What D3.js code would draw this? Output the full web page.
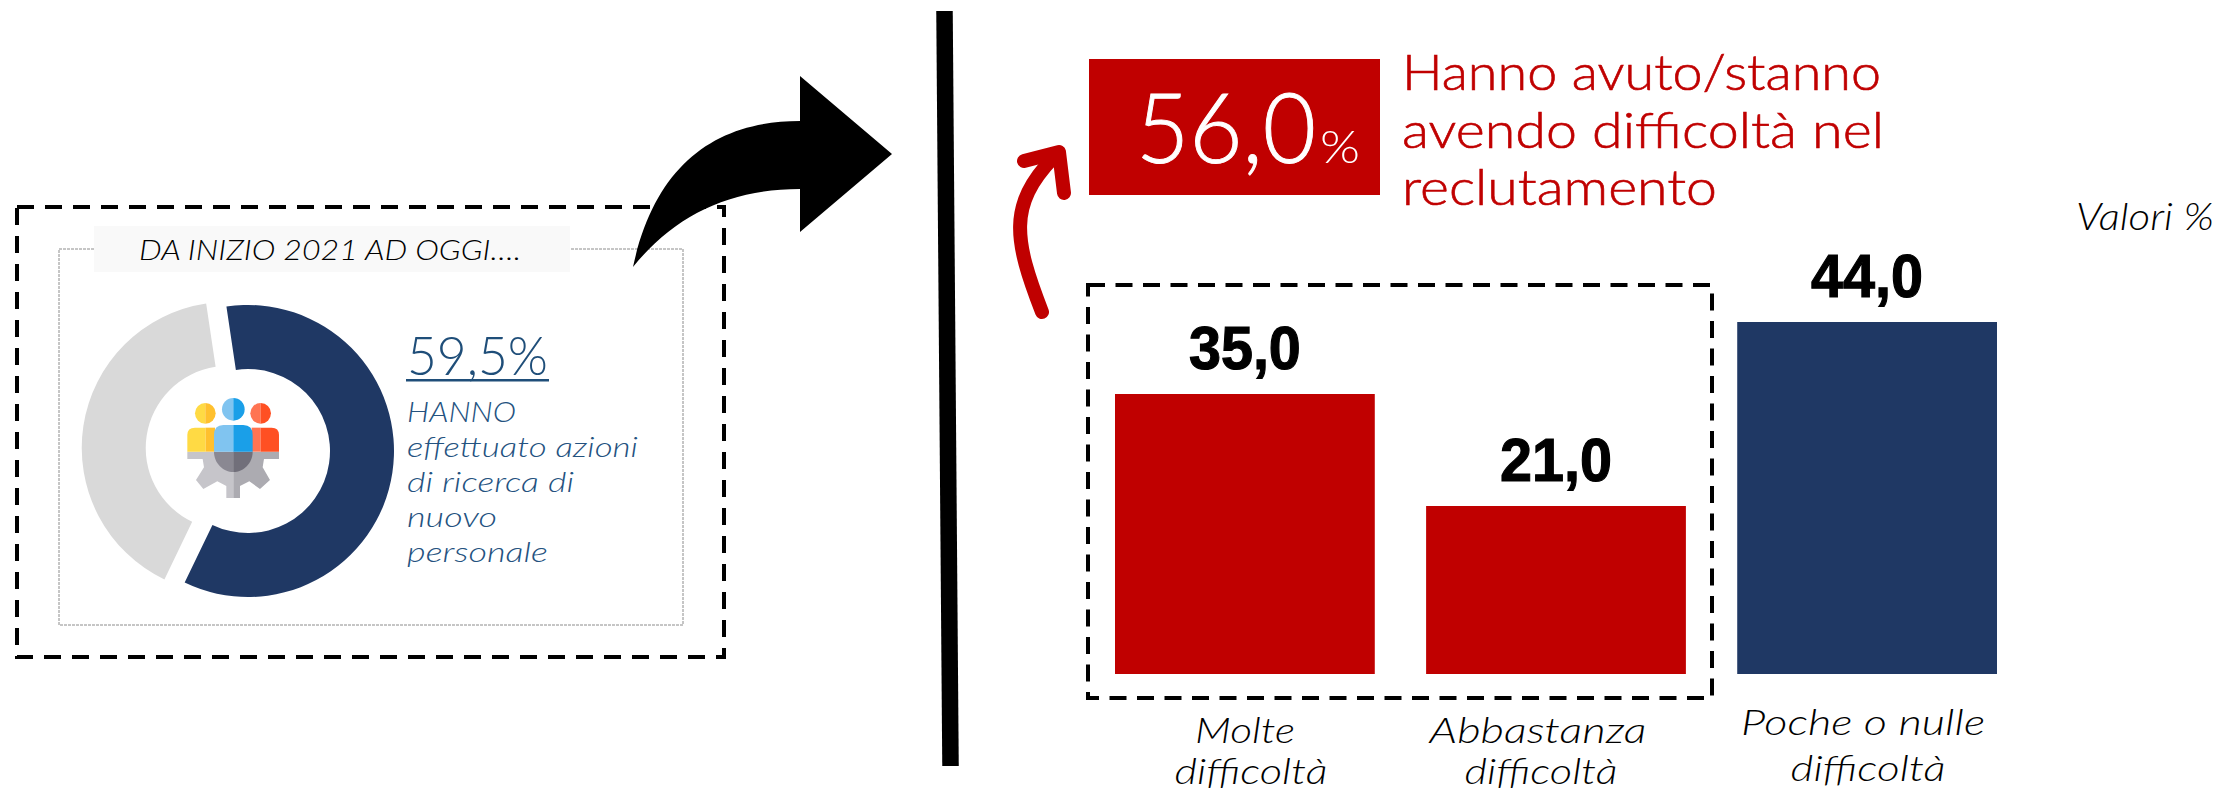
<!DOCTYPE html>
<html>
<head>
<meta charset="utf-8">
<script src="https://cdn.jsdelivr.net/npm/d3@7"></script>
<style>
  html, body { margin: 0; padding: 0; background: #fff; }
  svg { display: block; }
  text { font-family: Lato, "DejaVu Sans", sans-serif; font-weight: 300; }
</style>
</head>
<body>
<svg id="chart" width="2221" height="788"></svg>
<script>
// barre
var categories = ["Molte difficoltà", "Abbastanza difficoltà", "Poche o nulle difficoltà"];
var categoryLines = [["Molte", "difficoltà"], ["Abbastanza", "difficoltà"], ["Poche o nulle", "difficoltà"]];
var values = [35.0, 21.0, 44.0];
var barColors = ["#c00000", "#c00000", "#1f3864"];

// ciambella
var donutValues = [59.5, 40.5];
var donutColors = ["#1f3864", "#d9d9d9"];
var donutText = ["HANNO", "effettuato azioni", "di ricerca di", "nuovo", "personale"];
var donutWidths = [109, 231, 167, 90, 141];
var redLines = ["Hanno avuto/stanno", "avendo difficoltà nel", "reclutamento"];
var redWidths = [479, 482, 315];

var svg = d3.select("#chart");
var fmt = function (v) { return v.toFixed(1).replace(".", ","); };

// testo con larghezza imposta, il font originale non c'è
function label(g, str, x, y, size, color, width, italic) {
  var t = g.append("text").attr("x", x).attr("y", y)
    .attr("font-size", size).attr("fill", color).text(str);
  if (italic) t.attr("font-style", "italic");
  if (width) t.attr("textLength", width).attr("lengthAdjust", "spacingAndGlyphs");
  return t;
}

// --- riquadro sinistro
var left = svg.append("g");
left.append("rect").attr("x", 59).attr("y", 249).attr("width", 624).attr("height", 376)
  .attr("fill", "none").attr("stroke", "#8c8c8c").attr("stroke-width", 1).attr("stroke-dasharray", "3 1");
left.append("rect").attr("x", 17).attr("y", 207).attr("width", 707).attr("height", 450)
  .attr("fill", "none").attr("stroke", "#000").attr("stroke-width", 4).attr("stroke-dasharray", "17 11");
left.append("rect").attr("x", 94).attr("y", 226).attr("width", 476).attr("height", 46).attr("fill", "#f9f9f9");
label(left, "DA INIZIO 2021 AD OGGI….", 139, 260, 28, "#000", 382, true);

// ciambella con la fetta grigia staccata
var startDeg = -8.5;
var pie = d3.pie().sort(null)
  .startAngle(startDeg * Math.PI / 180)
  .endAngle((startDeg + 360) * Math.PI / 180);
var arc = d3.arc().innerRadius(82).outerRadius(146);
var slices = pie(donutValues);
var donut = left.append("g").attr("transform", "translate(248,451)");
donut.selectAll("path").data(slices).enter().append("path")
  .attr("d", arc)
  .attr("fill", function (d, i) { return donutColors[i]; })
  .attr("transform", function (d, i) {
    if (i == 0) return null;
    var c = arc.centroid(d), len = Math.sqrt(c[0] * c[0] + c[1] * c[1]);
    return "translate(" + (c[0] / len * 20.5) + "," + (c[1] / len * 20.5) + ")";
  });

// icona persone e ingranaggio
var icon = left.append("g").attr("transform", "translate(140,380) scale(0.3333)");
var gearL = "M142,215H280V354H259V318L232,304L190,327L168,300L192,262L188,237H142Z";
var gearR = "M280,215H417V237H372L368,262L390,300L360,327L328,304L300,318V354H280Z";
[
  ["path", gearL, "#c6c5ca"], ["path", gearR, "#acabb1"],
  ["path", "M222,215H280V276C250,276 222,250 222,215Z", "#8a8892"],
  ["path", "M280,215H338C338,250 310,276 280,276Z", "#716f7a"],
  ["path", "M142,215V165Q142,143 165,143H197V215Z", "#ffda44"],
  ["path", "M197,143H225V215H197Z", "#ffc02e"],
  ["path", "M335,143H362V215H335Z", "#ff7452"],
  ["path", "M362,143H395Q417,143 417,165V215H362Z", "#ff5023"],
  ["path", "M222,215V165Q222,135 250,135H280V215Z", "#80c4f0"],
  ["path", "M280,135H310Q338,135 338,165V215H280Z", "#1a9fe8"],
  ["path", "M196,69A31,31 0 0 0 196,131Z", "#ffda44"],
  ["path", "M196,69A31,31 0 0 1 196,131Z", "#ffc02e"],
  ["path", "M362,69A31,31 0 0 0 362,131Z", "#ff7452"],
  ["path", "M362,69A31,31 0 0 1 362,131Z", "#ff5023"],
  ["path", "M280,54A34,34 0 0 0 280,122Z", "#80c4f0"],
  ["path", "M280,54A34,34 0 0 1 280,122Z", "#1a9fe8"]
].forEach(function (p) { icon.append(p[0]).attr("d", p[1]).attr("fill", p[2]); });

label(left, "59,5%", 407, 375, 53, "#1f4e79", 141);
left.append("rect").attr("x", 406).attr("y", 379).attr("width", 143).attr("height", 2.5).attr("fill", "#1f4e79");
donutText.forEach(function (s, i) {
  label(left, s, 407, 422 + i * 35, 28, "#24527f", donutWidths[i], true);
});

// --- frecce e separatore
svg.append("path")
  .attr("d", "M633,267C655,165 715,121 800,121V76L892,154L800,232V189C730,189 675,215 633,267Z")
  .attr("fill", "#000");
svg.append("line").attr("x1", 944.5).attr("y1", 11).attr("x2", 950.5).attr("y2", 766)
  .attr("stroke", "#000").attr("stroke-width", 16.5);
svg.append("path").attr("d", "M1042,312C1014,240 1008,205 1053,158")
  .attr("fill", "none").attr("stroke", "#c00000").attr("stroke-width", 14).attr("stroke-linecap", "round");
svg.append("path").attr("d", "M1024,161L1059,152L1064,193")
  .attr("fill", "none").attr("stroke", "#c00000").attr("stroke-width", 14)
  .attr("stroke-linecap", "round").attr("stroke-linejoin", "round");

// --- riquadro rosso
svg.append("rect").attr("x", 1089).attr("y", 59).attr("width", 291).attr("height", 136).attr("fill", "#c00000");
label(svg, "56,0", 1136, 163, 97, "#fff", 180).attr("stroke", "#fff").attr("stroke-width", 1);
label(svg, "%", 1320, 163, 46, "#fff", 40);
redLines.forEach(function (s, i) {
  label(svg, s, 1402, 90 + i * 57.5, 49, "#c00000", redWidths[i])
    .attr("stroke", "#c00000").attr("stroke-width", 0.6);
});
label(svg, "Valori %", 2076, 230, 37, "#000", 138, true);

// --- grafico a barre
var xScale = d3.scaleBand().domain(categories).range([1115, 1997]).paddingInner(0.165).paddingOuter(0);
var yScale = d3.scaleLinear().domain([0, 44]).range([674, 322]);

svg.append("rect").attr("x", 1088).attr("y", 285).attr("width", 624).attr("height", 413)
  .attr("fill", "none").attr("stroke", "#000").attr("stroke-width", 4).attr("stroke-dasharray", "17 10.5");

svg.selectAll("rect.bar").data(categories).enter().append("rect")
  .attr("class", "bar")
  .attr("x", function (d) { return xScale(d); })
  .attr("y", function (d, i) { return yScale(values[i]); })
  .attr("width", xScale.bandwidth())
  .attr("height", function (d, i) { return yScale(0) - yScale(values[i]); })
  .style("fill", function (d, i) { return barColors[i]; });

svg.selectAll("text.val").data(categories).enter().append("text")
  .attr("class", "val")
  .attr("x", function (d) { return xScale(d) + xScale.bandwidth() / 2; })
  .attr("y", function (d, i) { return yScale(values[i]) - 25; })
  .attr("text-anchor", "middle")
  .attr("textLength", 112)
  .attr("lengthAdjust", "spacingAndGlyphs")
  .attr("stroke", "#000")
  .attr("stroke-width", 1.2)
  .style("font-family", "'Liberation Sans', Arial, sans-serif")
  .style("font-weight", "700")
  .style("font-size", "62px")
  .text(function (d, i) { return fmt(values[i]); });

// etichette categorie, non centrate sulle barre come nell'originale
var axis = svg.append("g").attr("transform", "translate(0,674)")
  .call(d3.axisBottom(xScale).tickSize(0).tickFormat(""));
axis.select(".domain").remove();
var lineDx = [[0, 6], [-18, -15], [-4, 1]];
var lineY = [[69, 110], [69, 110], [61, 107]];
var lineW = [[100, 153], [217, 153], [244, 155]];
axis.selectAll(".tick").each(function (d, i) {
  var tick = d3.select(this);
  tick.select("text").remove();
  categoryLines[i].forEach(function (s, j) {
    tick.append("text")
      .attr("x", lineDx[i][j])
      .attr("y", lineY[i][j])
      .attr("text-anchor", "middle")
      .attr("font-size", 36)
      .attr("font-style", "italic")
      .attr("fill", "#000")
      .attr("textLength", lineW[i][j])
      .attr("lengthAdjust", "spacingAndGlyphs")
      .text(s);
  });
});
</script>
</body>
</html>
